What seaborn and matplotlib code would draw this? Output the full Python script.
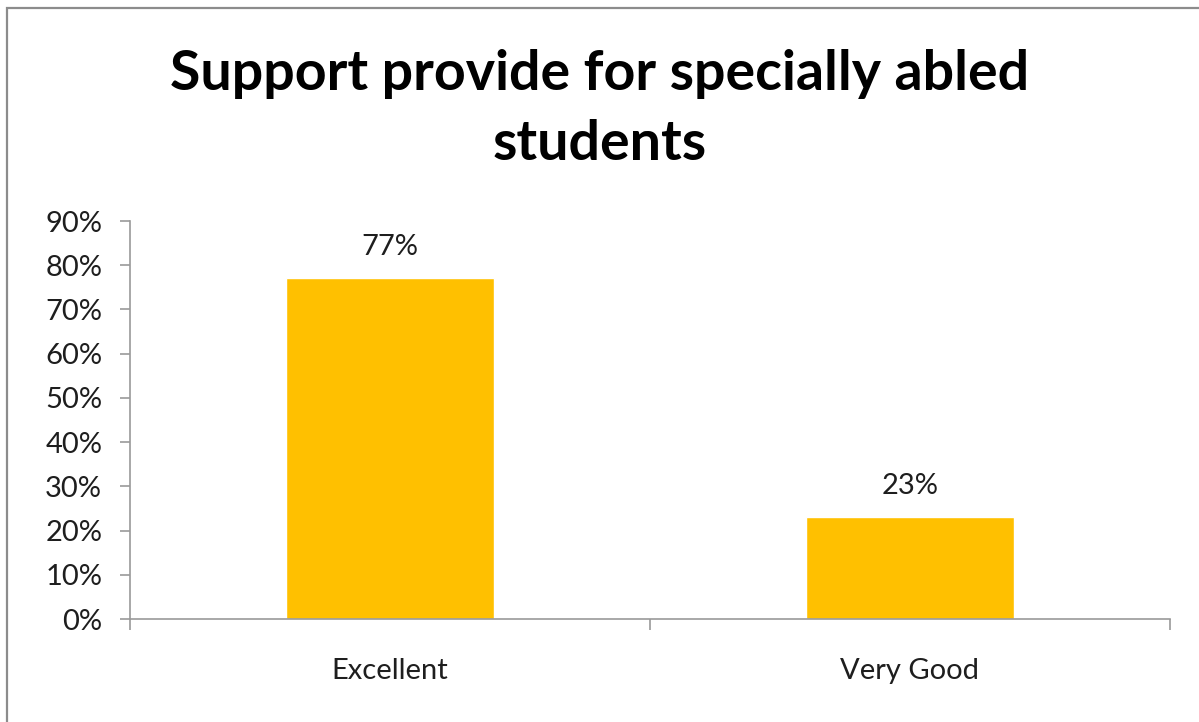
import matplotlib
matplotlib.use("Agg")
import matplotlib.pyplot as plt
import matplotlib.patches as mpatches
from matplotlib.ticker import FixedLocator, NullFormatter
import seaborn as sns
import pandas as pd

categories = ["Excellent", "Very Good"]
values = [77, 23]
value_labels = ["77%", "23%"]
y_ticks = [0, 10, 20, 30, 40, 50, 60, 70, 80, 90]
y_tick_labels = [f"{t}%" for t in y_ticks]
title_lines = ["Support provide for specially abled", "students"]

sns.set_style("white")
plt.rcParams["font.family"] = ["Lato", "DejaVu Sans"]

df = pd.DataFrame({"category": categories, "value": values})

W, H = 1199, 722
fig = plt.figure(figsize=(W / 100, H / 100), dpi=100)
ax = fig.add_axes([130 / W, 1 - 619 / H, (1170 - 130) / W, (619 - 221) / H])

sns.barplot(data=df, x="category", y="value", color="#FFC000", width=0.4,
            saturation=1, ax=ax)

ax.set_ylim(0, 90)
ax.set_xlim(-0.5, len(categories) - 0.5)
ax.set_yticks(y_ticks)
ax.set_yticklabels(y_tick_labels)
ax.set_xlabel("")
ax.set_ylabel("")

grey = "#9a9a9a"
text_col = "#1e1e1e"
for side in ["top", "right"]:
    ax.spines[side].set_visible(False)
for side in ["left", "bottom"]:
    ax.spines[side].set_color(grey)
    ax.spines[side].set_linewidth(1.2)

ax.tick_params(axis="y", which="major", direction="out", length=7, width=1.2,
               color=grey, labelsize=21, labelcolor=text_col, pad=13, left=True)
# category ticks between the bars on the x axis
ax.xaxis.set_minor_locator(FixedLocator([-0.5, 0.5, 1.5]))
ax.xaxis.set_minor_formatter(NullFormatter())
ax.tick_params(axis="x", which="minor", direction="out", length=8, width=1.2,
               color=grey, bottom=True)
ax.tick_params(axis="x", which="major", length=0, labelsize=21,
               labelcolor=text_col, pad=28)

for i, (v, lab) in enumerate(zip(values, value_labels)):
    ax.text(i, v + 5.3, lab, ha="center", va="baseline", fontsize=21,
            color=text_col)

for line, base_y in zip(title_lines, [90, 160]):
    fig.text(0.5, 1 - base_y / H, line, ha="center", va="baseline",
             fontsize=40, fontweight="bold", color="black")

# outer chart frame
frame = mpatches.Rectangle((7 / W, -0.05), 1.1, 1 - 8 / H + 0.05,
                           transform=fig.transFigure, fill=False,
                           edgecolor="#8c8c8c", linewidth=1.6, clip_on=False)
fig.patches.append(frame)

fig.savefig("out.png", dpi=100)
